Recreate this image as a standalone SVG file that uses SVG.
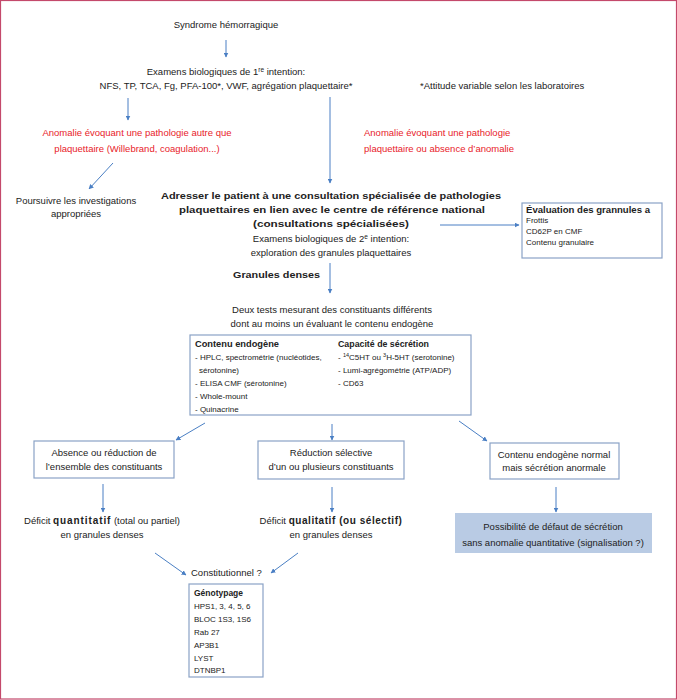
<svg xmlns="http://www.w3.org/2000/svg" width="677" height="700" viewBox="0 0 677 700">
<defs>
<marker id="ah" viewBox="0 0 10 10" refX="9" refY="5" markerWidth="5" markerHeight="5" orient="auto" markerUnits="userSpaceOnUse">
<path d="M0,0 L10,5 L0,10 z" fill="#4a7fc4"/>
</marker>
<style>
text{font-family:"Liberation Sans",Arial,sans-serif;font-size:9.5px;fill:#222}
.c{text-anchor:middle}
.b{font-weight:bold}
.r{fill:#e8222a}
.s{font-size:8px}
.box{fill:#fff;stroke:#8aa2c6;stroke-width:1.2}
.con line{stroke:#4a7fc4;stroke-width:1;marker-end:url(#ah)}
</style>
</defs>
<rect x="0.5" y="0.5" width="676" height="698.5" fill="#fff" stroke="#c4496b" stroke-width="1.2"/>

<g class="con" id="connectors">
<line x1="226" y1="40" x2="226" y2="57"/>
<line x1="128" y1="98" x2="128" y2="120"/>
<line x1="330" y1="97" x2="330" y2="183"/>
<line x1="113" y1="163" x2="89" y2="189"/>
<line x1="440" y1="225" x2="519" y2="225"/>
<line x1="330" y1="263" x2="330" y2="293"/>
<line x1="205" y1="423" x2="176" y2="440"/>
<line x1="332" y1="424" x2="332" y2="440"/>
<line x1="459" y1="421" x2="487" y2="441"/>
<line x1="103" y1="484" x2="103" y2="512"/>
<line x1="332" y1="487" x2="332" y2="512"/>
<line x1="556" y1="487" x2="556" y2="512"/>
<line x1="155" y1="553" x2="186" y2="575"/>
<line x1="298" y1="553" x2="271" y2="573"/>
</g>

<g id="n-syndrome"><text class="c" x="226" y="28">Syndrome hémorragique</text></g>

<g id="n-examens1">
<text class="c" x="226" y="75">Examens biologiques de 1<tspan font-size="6.5" dy="-3.5">re</tspan><tspan dy="3.5"> intention:</tspan></text>
<text class="c" x="226" y="89">NFS, TP, TCA, Fg, PFA-100*, VWF, agrégation plaquettaire*</text>
</g>

<g id="n-note"><text x="420" y="89">*Attitude variable selon les laboratoires</text></g>

<g id="n-anomalie-autre">
<text class="c r" x="137" y="136">Anomalie évoquant une pathologie autre que</text>
<text class="c r" x="137" y="152">plaquettaire (Willebrand, coagulation...)</text>
</g>

<g id="n-anomalie-plaq">
<text class="r" x="364" y="136">Anomalie évoquant une pathologie</text>
<text class="r" x="364" y="152">plaquettaire ou absence d’anomalie</text>
</g>

<g id="n-poursuivre">
<text class="c" x="76" y="204">Poursuivre les investigations</text>
<text class="c" x="76" y="217">appropriées</text>
</g>

<g id="n-adresser">
<text class="c b" x="331" y="199" font-size="10.5" textLength="340" lengthAdjust="spacingAndGlyphs">Adresser le patient à une consultation spécialisée de pathologies</text>
<text class="c b" x="332" y="213" font-size="10.5" textLength="306" lengthAdjust="spacingAndGlyphs">plaquettaires en lien avec le centre de référence national</text>
<text class="c b" x="331" y="227" font-size="10.5" textLength="156" lengthAdjust="spacingAndGlyphs">(consultations spécialisées)</text>
<text class="c" x="331" y="242">Examens biologiques de 2<tspan font-size="6.5" dy="-3.5">e</tspan><tspan dy="3.5"> intention:</tspan></text>
<text class="c" x="331" y="256">exploration des granules plaquettaires</text>
</g>

<g id="n-evaluation">
<rect class="box" x="522" y="203" width="140" height="55"/>
<text class="b" x="526" y="213" font-size="8.6" textLength="124" lengthAdjust="spacingAndGlyphs">Évaluation des grannules a</text>
<text class="s" x="526" y="223">Frottis</text>
<text class="s" x="526" y="234">CD62P en CMF</text>
<text class="s" x="526" y="245">Contenu granulaire</text>
</g>

<g id="n-granules"><text class="b" x="233" y="278" font-size="10.5" textLength="87" lengthAdjust="spacingAndGlyphs">Granules denses</text></g>

<g id="n-deuxtests">
<text class="c" x="332" y="313">Deux tests mesurant des constituants différents</text>
<text class="c" x="332" y="327">dont au moins un évaluant le contenu endogène</text>
</g>

<g id="n-tests">
<rect class="box" x="190" y="335" width="281" height="80"/>
<text class="b" x="195" y="347" font-size="8.8" textLength="84" lengthAdjust="spacingAndGlyphs">Contenu endogène</text>
<text class="s" x="195" y="360">- HPLC, spectrométrie (nucléotides,</text>
<text class="s" x="199" y="373">sérotonine)</text>
<text class="s" x="195" y="386">- ELISA CMF (sérotonine)</text>
<text class="s" x="195" y="399">- Whole-mount</text>
<text class="s" x="195" y="412">- Quinacrine</text>
<text class="b" x="338" y="347" font-size="8.8" textLength="91" lengthAdjust="spacingAndGlyphs">Capacité de sécrétion</text>
<text class="s" x="338" y="360">- <tspan font-size="5.5" dy="-3">14</tspan><tspan dy="3">C5HT ou </tspan><tspan font-size="5.5" dy="-3">3</tspan><tspan dy="3">H-5HT (serotonine)</tspan></text>
<text class="s" x="338" y="373">- Lumi-agrégométrie (ATP/ADP)</text>
<text class="s" x="338" y="386">- CD63</text>
</g>

<g id="n-absence">
<rect class="box" x="34" y="441" width="140" height="37"/>
<text class="c" x="104" y="456">Absence ou réduction de</text>
<text class="c" x="104" y="470">l’ensemble des constituants</text>
</g>

<g id="n-reduction">
<rect class="box" x="258" y="441" width="146" height="38"/>
<text class="c" x="331" y="456">Réduction sélective</text>
<text class="c" x="331" y="470">d’un ou plusieurs constituants</text>
</g>

<g id="n-normal">
<rect class="box" x="490" y="443" width="129" height="36"/>
<text class="c" x="554" y="458">Contenu endogène normal</text>
<text class="c" x="554" y="471">mais sécrétion anormale</text>
</g>

<g id="n-quanti">
<text class="c" x="102" y="524">Déficit <tspan class="b" font-size="10" letter-spacing="0.9">quantitatif</tspan> (total ou partiel)</text>
<text class="c" x="102" y="538">en granules denses</text>
</g>

<g id="n-quali">
<text class="c" x="331" y="524">Déficit <tspan class="b" font-size="10" letter-spacing="0.55">qualitatif (ou sélectif)</tspan></text>
<text class="c" x="331" y="538">en granules denses</text>
</g>

<g id="n-possibilite">
<rect x="455" y="513" width="197" height="40" fill="#b9cbe4"/>
<text class="c" x="553" y="530">Possibilité de défaut de sécrétion</text>
<text class="c" x="553" y="546">sans anomalie quantitative (signalisation ?)</text>
</g>

<g id="n-constit"><text x="191" y="576">Constitutionnel ?</text></g>

<g id="n-genotypage">
<rect class="box" x="189" y="584" width="74" height="93"/>
<text class="b" x="194" y="596" font-size="8.8" textLength="49" lengthAdjust="spacingAndGlyphs">Génotypage</text>
<text class="s" x="194" y="609">HPS1, 3, 4, 5, 6</text>
<text class="s" x="194" y="622">BLOC 1S3, 1S6</text>
<text class="s" x="194" y="635">Rab 27</text>
<text class="s" x="194" y="648">AP3B1</text>
<text class="s" x="194" y="661">LYST</text>
<text class="s" x="194" y="673">DTNBP1</text>
</g>
</svg>
